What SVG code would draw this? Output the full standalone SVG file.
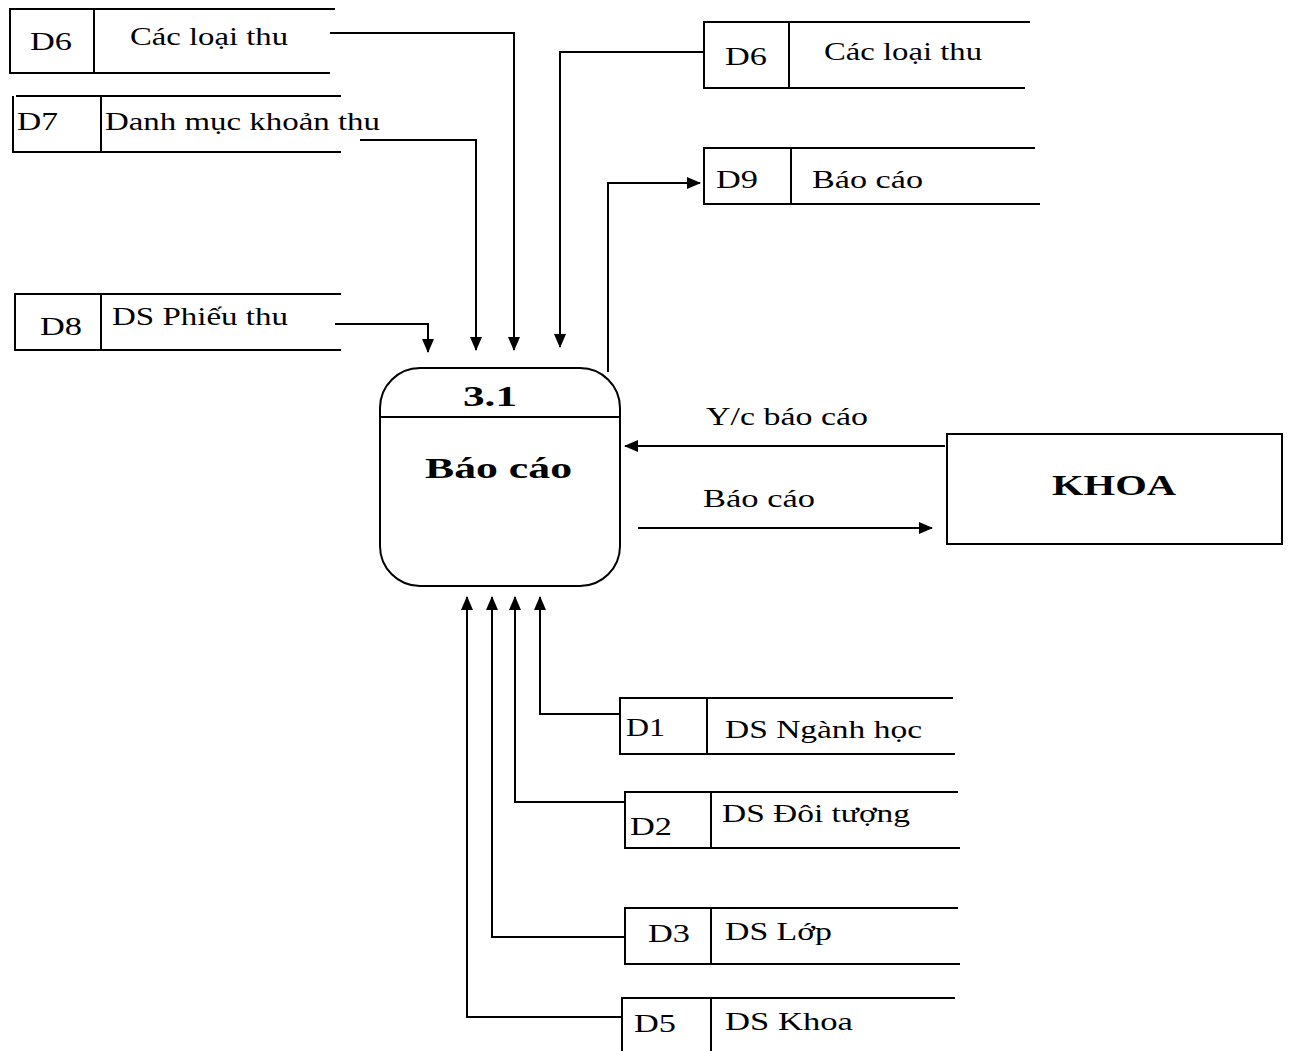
<svg xmlns="http://www.w3.org/2000/svg" width="1290" height="1051" viewBox="0 0 1290 1051">
<style>
.s{fill:none;stroke:#000;stroke-width:2}
.c{fill:none;stroke:#000;stroke-width:2}
.t{font-family:"Liberation Serif","Times New Roman",serif;font-size:26px;fill:#000}
.b{font-family:"Liberation Serif","Times New Roman",serif;font-size:30px;font-weight:bold;fill:#000}
</style>
<defs>
<marker id="a" markerWidth="14" markerHeight="12" refX="13" refY="6" orient="auto" markerUnits="userSpaceOnUse">
<path d="M0,0 L14,6 L0,12 Z" fill="#000"/>
</marker>
</defs>
<rect width="1290" height="1051" fill="#fff"/>

<g id="d6-left">
<path class="s" d="M335,9 H10 V73 H330 M94,9 V73"/>
<text class="t" x="30" y="50" textLength="42" lengthAdjust="spacingAndGlyphs">D6</text>
<text class="t" x="130" y="45" textLength="158" lengthAdjust="spacingAndGlyphs">Các loại thu</text>
</g>
<g id="d7">
<path class="s" d="M341,96 H16 M13,96 V152 H341 M101,96 V152"/>
<text class="t" x="17" y="130" textLength="41" lengthAdjust="spacingAndGlyphs">D7</text>
<text class="t" x="105" y="130" textLength="275" lengthAdjust="spacingAndGlyphs">Danh mục khoản thu</text>
</g>
<g id="d8">
<path class="s" d="M341,294 H15 V350 H341 M101,294 V350"/>
<text class="t" x="40" y="335" textLength="42" lengthAdjust="spacingAndGlyphs">D8</text>
<text class="t" x="112" y="325" textLength="176" lengthAdjust="spacingAndGlyphs">DS Phiếu thu</text>
</g>
<g id="d6-right">
<path class="s" d="M1030,22 H704 V88 H1025 M789,22 V88"/>
<text class="t" x="725" y="65" textLength="42" lengthAdjust="spacingAndGlyphs">D6</text>
<text class="t" x="824" y="60" textLength="158" lengthAdjust="spacingAndGlyphs">Các loại thu</text>
</g>
<g id="d9">
<path class="s" d="M1035,148 H704 V204 H1040 M791,148 V204"/>
<text class="t" x="716" y="188" textLength="42" lengthAdjust="spacingAndGlyphs">D9</text>
<text class="t" x="812" y="188" textLength="111" lengthAdjust="spacingAndGlyphs">Báo cáo</text>
</g>
<g id="p31">
<rect class="s" x="380" y="368" width="240" height="218" rx="40" ry="40"/>
<line class="s" x1="381" y1="417" x2="619" y2="417"/>
<text class="b" x="463" y="406" textLength="54" lengthAdjust="spacingAndGlyphs">3.1</text>
<text class="b" x="425" y="478" textLength="147" lengthAdjust="spacingAndGlyphs">Báo cáo</text>
</g>
<g id="khoa">
<rect class="s" x="947" y="434" width="335" height="110"/>
<text class="b" x="1052" y="495" textLength="124" lengthAdjust="spacingAndGlyphs">KHOA</text>
</g>
<g id="d1">
<path class="s" d="M953,698 H620 V754 H955 M707,698 V754"/>
<text class="t" x="626" y="736" textLength="39" lengthAdjust="spacingAndGlyphs">D1</text>
<text class="t" x="725" y="738" textLength="197" lengthAdjust="spacingAndGlyphs">DS Ngành học</text>
</g>
<g id="d2">
<path class="s" d="M958,792 H625 V848 H960 M711,792 V848"/>
<text class="t" x="630" y="835" textLength="42" lengthAdjust="spacingAndGlyphs">D2</text>
<text class="t" x="722" y="822" textLength="188" lengthAdjust="spacingAndGlyphs">DS Đôi tượng</text>
</g>
<g id="d3">
<path class="s" d="M958,908 H625 V964 H960 M711,908 V964"/>
<text class="t" x="648" y="942" textLength="42" lengthAdjust="spacingAndGlyphs">D3</text>
<text class="t" x="725" y="940" textLength="107" lengthAdjust="spacingAndGlyphs">DS Lớp</text>
</g>
<g id="d5">
<path class="s" d="M955,998 H622 V1051 M711,998 V1051"/>
<text class="t" x="634" y="1032" textLength="42" lengthAdjust="spacingAndGlyphs">D5</text>
<text class="t" x="725" y="1030" textLength="128" lengthAdjust="spacingAndGlyphs">DS Khoa</text>
</g>

<g id="connectors">
<path class="c" d="M330,33 H514 V350" marker-end="url(#a)"/>
<path class="c" d="M360,140 H476 V350" marker-end="url(#a)"/>
<path class="c" d="M335,324 H428 V352" marker-end="url(#a)"/>
<path class="c" d="M704,52 H560 V347" marker-end="url(#a)"/>
<path class="c" d="M608,372 V183 H700" marker-end="url(#a)"/>
<path class="c" d="M945,446 H625" marker-end="url(#a)"/>
<path class="c" d="M638,528 H932" marker-end="url(#a)"/>
<path class="c" d="M620,714 H540 V597" marker-end="url(#a)"/>
<path class="c" d="M625,802 H515 V597" marker-end="url(#a)"/>
<path class="c" d="M625,937 H492 V597" marker-end="url(#a)"/>
<path class="c" d="M622,1017 H467 V597" marker-end="url(#a)"/>
<text class="t" x="706" y="425" textLength="162" lengthAdjust="spacingAndGlyphs">Y/c báo cáo</text>
<text class="t" x="703" y="507" textLength="112" lengthAdjust="spacingAndGlyphs">Báo cáo</text>
</g>
</svg>
